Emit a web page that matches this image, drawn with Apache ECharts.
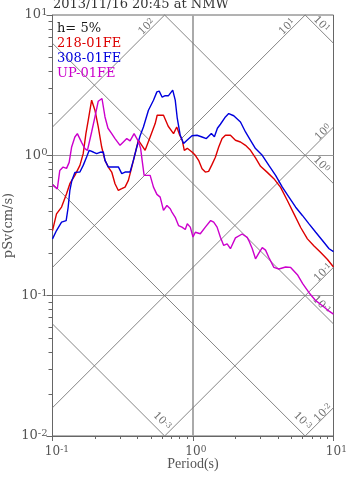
<!DOCTYPE html>
<html><head><meta charset="utf-8">
<script src="https://cdn.jsdelivr.net/npm/echarts@6/dist/echarts.min.js"></script>
<style>html,body{margin:0;padding:0;background:#fff}#c{width:347px;height:478px}</style>
</head><body><div id="c"></div>
<script>
// ---- data ----
const titleText = '2013/11/16 20:45 at NMW';
const legendLabels = ['h= 5%', '218-01FE', '308-01FE', 'UP-01FE'];
const xTickExp = ['-1', '0', '1'];
const yTickExp = ['-2', '-1', '0', '1'];

const redT = [0.1,0.1068,0.116,0.1259,0.1329,0.1443,0.1567,0.1654,0.1729,0.1796,0.1899,0.2005,0.2117,0.2239,0.2364,0.2495,0.2639,0.2786,0.2942,0.3111,0.3284,0.3467,0.3667,0.3872,0.4088,0.4323,0.4563,0.4955,0.538,0.5559,0.6166,0.634,0.6662,0.7268,0.7661,0.8049,0.8388,0.8668,0.9106,0.9837,1.0385,1.096,1.16,1.224,1.292,1.367,1.443,1.524,1.611,1.701,1.847,2.005,2.177,2.364,2.567,2.786,3.025,3.378,3.764,4.204,4.693,5.232,5.84,6.521,7.267,8.114,9.061,10];
const redSv = [0.291,0.383,0.428,0.533,0.628,0.72,0.848,1.028,1.429,1.778,2.471,2.096,1.593,1.146,0.921,0.825,0.76,0.628,0.562,0.578,0.594,0.663,0.825,1.028,1.28,1.179,1.086,1.351,1.684,1.931,1.931,1.877,1.611,1.429,1.593,1.39,1.28,1.086,1.122,1.056,1.0,0.921,0.803,0.76,0.769,0.862,0.968,1.146,1.316,1.39,1.39,1.28,1.245,1.179,1.086,0.96,0.835,0.756,0.682,0.591,0.477,0.383,0.306,0.254,0.226,0.203,0.181,0.16];

const blueT = [0.1,0.1068,0.116,0.1251,0.1292,0.1329,0.1374,0.1443,0.1567,0.1654,0.1749,0.1825,0.195,0.2062,0.2177,0.2299,0.2364,0.2495,0.271,0.2942,0.3111,0.3284,0.3565,0.3764,0.3981,0.4204,0.4438,0.4818,0.5232,0.5534,0.5746,0.6035,0.634,0.6695,0.7173,0.7474,0.7725,0.8114,0.8567,0.9061,0.9837,1.068,1.16,1.245,1.351,1.42,1.492,1.567,1.701,1.796,1.95,2.177,2.364,2.567,2.786,3.111,3.467,3.872,4.323,4.818,5.38,6.005,6.695,7.474,8.345,9.302,10];
const blueSv = [0.254,0.291,0.334,0.343,0.425,0.562,0.663,0.756,0.76,0.848,0.972,1.086,1.056,1.028,1.051,1.056,0.921,0.825,0.825,0.828,0.74,0.76,0.76,0.921,1.146,1.378,1.593,2.096,2.471,2.832,2.865,2.596,2.661,2.661,2.912,2.471,1.838,1.39,1.212,1.28,1.378,1.39,1.351,1.316,1.429,1.356,1.559,1.665,1.877,1.986,1.915,1.729,1.467,1.28,1.117,1.0,0.848,0.72,0.594,0.504,0.427,0.373,0.325,0.283,0.247,0.216,0.206];

const magT = [0.1,0.1082,0.1127,0.119,0.1259,0.1314,0.1367,0.1443,0.1503,0.1611,0.1701,0.1773,0.1899,0.2005,0.2117,0.225,0.2364,0.2483,0.2639,0.2786,0.3025,0.3194,0.3378,0.3565,0.3808,0.4068,0.4238,0.4345,0.4489,0.4955,0.5232,0.5534,0.584,0.6166,0.6521,0.6886,0.7079,0.7474,0.789,0.8345,0.881,0.9106,0.9566,1.0,1.039,1.127,1.224,1.336,1.404,1.484,1.567,1.654,1.75,1.847,2.005,2.239,2.431,2.496,2.639,2.786,2.942,3.111,3.284,3.467,3.764,4.088,4.563,4.955,5.534,6.035,6.695,7.474,8.345,9.302,10];
const magSv = [0.616,0.576,0.781,0.825,0.807,0.891,1.141,1.351,1.429,1.238,1.117,1.086,1.467,1.877,2.431,2.541,1.877,1.559,1.429,1.316,1.179,1.245,1.316,1.269,1.429,1.269,1.122,0.921,0.72,0.72,0.594,0.527,0.504,0.405,0.439,0.416,0.394,0.362,0.316,0.308,0.296,0.325,0.308,0.262,0.283,0.276,0.308,0.343,0.334,0.308,0.261,0.228,0.234,0.216,0.258,0.275,0.26,0.247,0.217,0.183,0.201,0.22,0.211,0.187,0.159,0.155,0.16,0.159,0.141,0.122,0.105,0.0921,0.0848,0.0775,0.0738];

// tripartite guide lines: pseudo-acceleration (cm/s^2) and displacement (cm)
const accelValues = [0.01, 0.1, 1, 10, 100];
const accelLabels = ['-2', '-1', '0', '1', '2'];
const dispValues = [0.001, 0.01, 0.1, 1, 10];
const dispLabels = ['-3', '-3', '-1', '0', '1'];

// ---- styling ----
const FONT = "'DejaVu Serif', serif";
const FONT2 = "'Liberation Serif', serif";
const X_MIN = 0.1, X_MAX = 10, Y_MIN = 0.01, Y_MAX = 10;
const TWO_PI = 2 * Math.PI;
const zip = (t, s) => t.map((v, i) => [v, s[i]]);

function accelEnds(a) {
  const k = a / TWO_PI;
  const t1 = Math.max(X_MIN, Y_MIN / k), t2 = Math.min(X_MAX, Y_MAX / k);
  return [t1, k * t1, t2, k * t2, t2 >= X_MAX * 0.9999 ? 1 : 0];
}
function dispEnds(d) {
  const c = TWO_PI * d;
  const t1 = Math.max(X_MIN, c / Y_MAX), t2 = Math.min(X_MAX, c / Y_MIN);
  return [t1, c / t1, t2, c / t2, t2 >= X_MAX * 0.9999 ? 1 : 0];
}
const labelOffsets = {
  accel: { right: [11, 3.5], other: [21, 4.3] },
  disp: { right: [22, 5], other: [12.5, 8.7] }
};
function guideSeries(values, labels, kind) {
  const data = values.map(kind === 'accel' ? accelEnds : dispEnds);
  return {
    type: 'custom', coordinateSystem: 'cartesian2d', silent: true, clip: false, z: 1,
    encode: { x: [0, 2], y: [1, 3] },
    data: data,
    renderItem: function (params, api) {
      const p1 = api.coord([api.value(0), api.value(1)]);
      const p2 = api.coord([api.value(2), api.value(3)]);
      const dx = p2[0] - p1[0], dy = p2[1] - p1[1], L = Math.hypot(dx, dy);
      const ux = dx / L, uy = dy / L, nx = uy, ny = -ux;
      const off = labelOffsets[kind][api.value(4) === 1 ? 'right' : 'other'];
      const cx = p2[0] - off[0] * ux + off[1] * nx;
      const cy = p2[1] - off[0] * uy + off[1] * ny;
      return {
        type: 'group', children: [
          { type: 'line', shape: { x1: p1[0], y1: p1[1], x2: p2[0], y2: p2[1] },
            style: { stroke: '#777', lineWidth: 0.9 } },
          { type: 'text', x: cx, y: cy, rotation: -Math.atan2(uy, ux),
            style: { text: '{b|10}{s|' + labels[params.dataIndex] + '}', align: 'center', verticalAlign: 'middle',
              rich: { b: { fontSize: 10.5, fontFamily: FONT, fill: '#707070', lineHeight: 11 },
                      s: { fontSize: 7.5, fontFamily: FONT, fill: '#707070', verticalAlign: 'top' } } } }
        ]
      };
    }
  };
}

const minorX = [], minorY = [];
for (let e = -1; e < 1; e++) for (let m = 2; m <= 9; m++) minorX.push(m * Math.pow(10, e));
for (let e = -2; e < 1; e++) for (let m = 2; m <= 9; m++) minorY.push(m * Math.pow(10, e));

const minorXSeries = {
  type: 'custom', coordinateSystem: 'cartesian2d', silent: true, clip: false, z: 6,
  data: minorX.map(t => [t, Y_MIN]),
  renderItem: function (p, api) {
    const c = api.coord([api.value(0), api.value(1)]);
    const x = Math.round(c[0]) + 0.5;
    return { type: 'line', shape: { x1: x, y1: c[1], x2: x, y2: c[1] + 3 }, style: { stroke: '#666', lineWidth: 1 } };
  }
};
const minorYSeries = {
  type: 'custom', coordinateSystem: 'cartesian2d', silent: true, clip: false, z: 6,
  data: minorY.map(s => [X_MIN, s]),
  renderItem: function (p, api) {
    const c = api.coord([api.value(0), api.value(1)]);
    const y = Math.round(c[1]) + 0.5;
    return { type: 'line', shape: { x1: c[0] - 4, y1: y, x2: c[0], y2: y }, style: { stroke: '#666', lineWidth: 1 } };
  }
};

function curve(name, t, s, color) {
  return { name: name, type: 'line', data: zip(t, s), showSymbol: false, symbol: 'none', z: 4,
    lineStyle: { color: color, width: 1.4 }, itemStyle: { color: color }, animation: false };
}

const seriesColors = ['#dd0000', '#0000dd', '#cc00cc'];
const legendColors = ['#1a1a1a'].concat(seriesColors);

const chart = echarts.init(document.getElementById('c'));
chart.setOption({
  animation: false,
  backgroundColor: '#fff',
  grid: { left: 52.5, top: 15, width: 281, height: 421, show: true, borderColor: '#666', borderWidth: 1,
          containLabel: false, outerBoundsMode: 'none' },
  xAxis: {
    type: 'log', logBase: 10, min: X_MIN, max: X_MAX, interval: 1,
    name: 'Period(s)', nameLocation: 'middle', nameGap: 21, nameMoveOverlap: false,
    nameTextStyle: { fontFamily: FONT2, fontSize: 14, color: '#555' },
    axisLine: { show: true, lineStyle: { color: '#666' } },
    axisTick: { show: true, length: 5, lineStyle: { color: '#666' } },
    splitLine: { show: true, showMinLine: false, showMaxLine: false, lineStyle: { color: '#aaa', width: 2 } },
    axisLabel: {
      margin: 9, hideOverlap: false,
      formatter: (v, i) => '{p|' + xTickExp[i] + '}{b|10}{s|' + xTickExp[i] + '}',
      rich: {
        b: { fontFamily: FONT, fontSize: 12, lineHeight: 14, color: '#555' },
        s: { fontFamily: FONT, fontSize: 9, color: '#555', verticalAlign: 'top' },
        p: { fontFamily: FONT, fontSize: 9, color: 'rgba(0,0,0,0)' }
      }
    }
  },
  yAxis: {
    type: 'log', logBase: 10, min: Y_MIN, max: Y_MAX, interval: 1,
    name: 'pSv(cm/s)', nameLocation: 'middle', nameGap: 37, nameRotate: 90, nameMoveOverlap: false,
    nameTextStyle: { fontFamily: FONT, fontSize: 13, color: '#555' },
    axisLine: { show: true, lineStyle: { color: '#666' } },
    axisTick: { show: true, length: 6, lineStyle: { color: '#666' } },
    splitLine: { show: true, showMinLine: false, showMaxLine: false, lineStyle: { color: '#999', width: 1 } },
    axisLabel: {
      margin: 5,
      formatter: (v, i) => '{b|10}{s|' + yTickExp[i] + '}',
      rich: {
        b: { fontFamily: FONT, fontSize: 13, lineHeight: 15, color: '#555' },
        s: { fontFamily: FONT, fontSize: 10, color: '#555', verticalAlign: 'top' }
      }
    }
  },
  graphic: [
    { type: 'text', x: 53, y: 5, z: 10, style: { text: titleText, font: '13px ' + FONT, fill: '#333', verticalAlign: 'middle' } }
  ].concat(legendLabels.map((t, i) => ({
    type: 'text', x: 57, y: 28.5 + i * 15, z: 10,
    style: { text: t, font: '13px ' + FONT, fill: legendColors[i], verticalAlign: 'middle' }
  }))),
  series: [
    guideSeries(accelValues, accelLabels, 'accel'),
    guideSeries(dispValues, dispLabels, 'disp'),
    minorXSeries, minorYSeries,
    curve('218-01FE', redT, redSv, seriesColors[0]),
    curve('308-01FE', blueT, blueSv, seriesColors[1]),
    curve('UP-01FE', magT, magSv, seriesColors[2])
  ]
});
</script>
</body></html>
